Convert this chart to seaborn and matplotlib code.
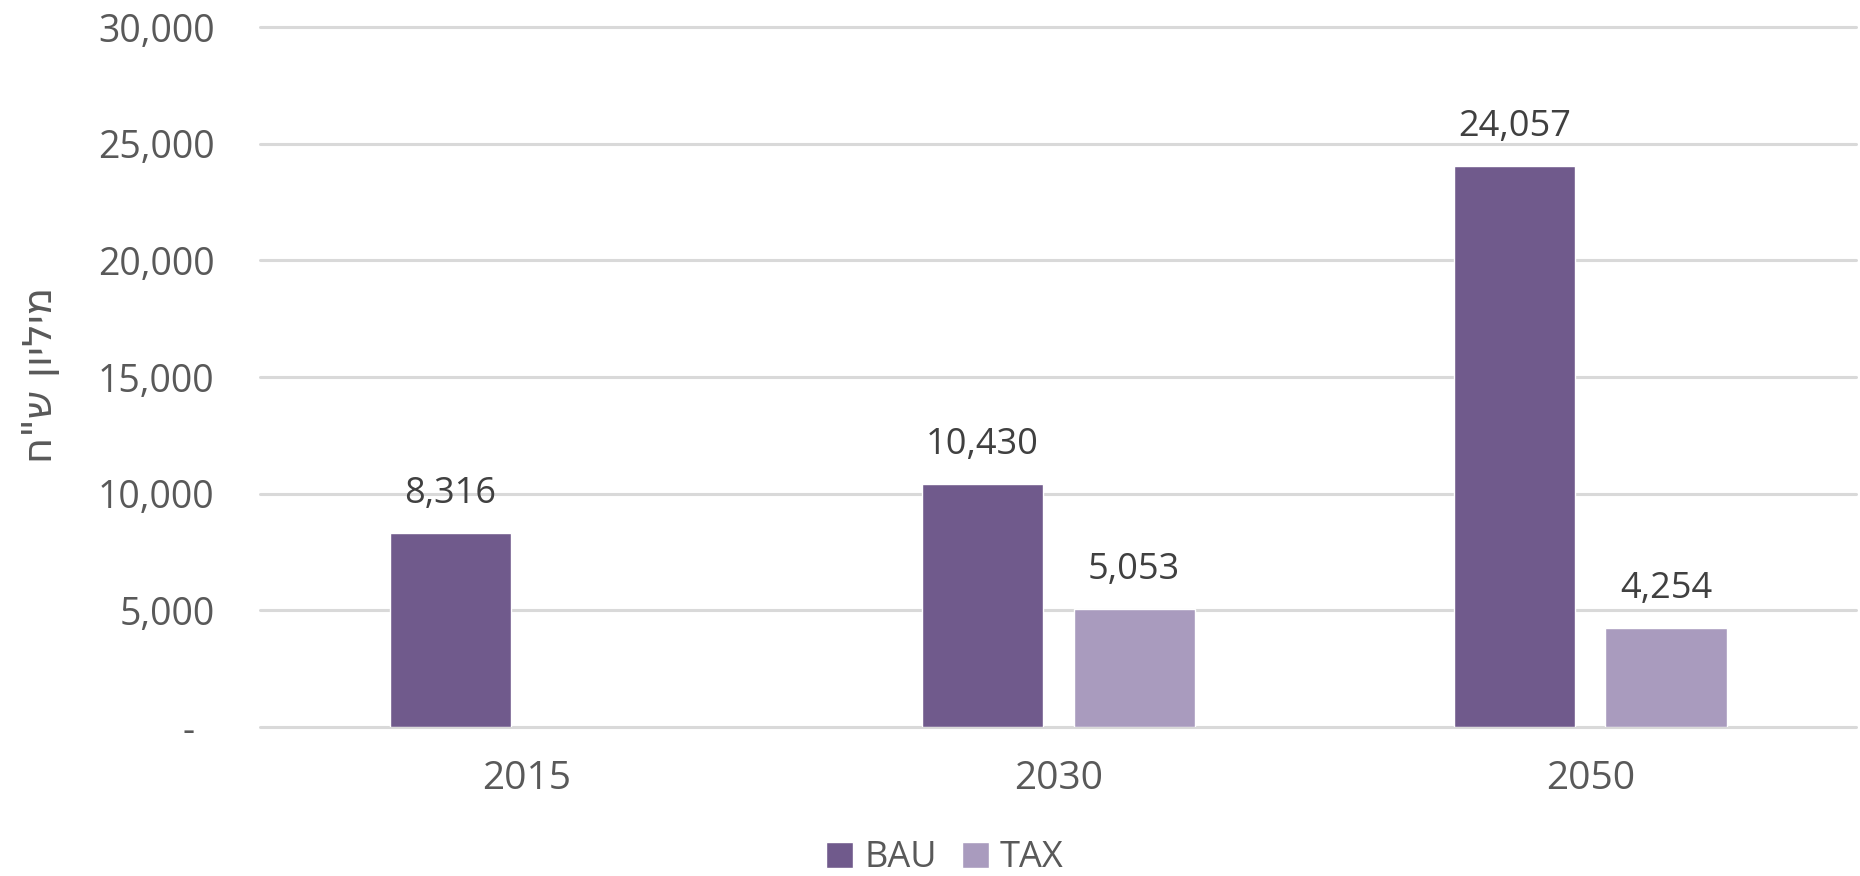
import numpy as np
import pandas as pd
import matplotlib
matplotlib.use("Agg")
import matplotlib.pyplot as plt
import seaborn as sns

years = ["2015", "2030", "2050"]
bau = [8316, 10430, 24057]
tax = [np.nan, 5053, 4254]
series = ["BAU", "TAX"]
colors = ["#705A8C", "#A99BBE"]
yticks = [0, 5000, 10000, 15000, 20000, 25000, 30000]
ylabel = "מיליון ש\"ח"

df = pd.DataFrame({
    "year": years * 2,
    "value": bau + tax,
    "series": ["BAU"] * 3 + ["TAX"] * 3,
})

sns.set_theme(style="white")
plt.rcParams["font.family"] = ["Open Sans", "DejaVu Sans"]
text_color = "#595959"

fig = plt.figure(figsize=(18.6, 8.76), dpi=100)
ax = fig.add_axes([0.140, 0.170, 0.858, 0.799])

sns.barplot(data=df, x="year", y="value", hue="series", order=years,
            hue_order=series, palette=colors, width=0.57, gap=0.2,
            saturation=1, ax=ax, legend=True, errorbar=None)

for c in ax.containers:
    labels = ["" if (v is None or np.isnan(v)) else f"{v:,.0f}" for v in c.datavalues]
    ax.bar_label(c, labels=labels, padding=15, fontsize=26, color="#404040")

ax.set_ylim(0, 30000)
ax.set_xlim(-0.5, 2.5)
ax.set_yticks(yticks)
ax.set_yticklabels(["-  "] + [f"{t:,}" for t in yticks[1:]])
ax.yaxis.grid(True, color="#D9D9D9", linewidth=2.2)
for gl in ax.get_ygridlines():
    gl.set_clip_on(False)
ax.set_axisbelow(True)
for s in ax.spines.values():
    s.set_visible(False)
ax.tick_params(axis="y", length=0, pad=33, labelsize=27, labelcolor=text_color)
ax.tick_params(axis="x", length=0, pad=24, labelsize=28, labelcolor=text_color)
ax.set_xlabel("")
ax.set_ylabel("")
# Hebrew label: reverse for visual RTL order
fig.text(0.022, 0.572, ylabel[::-1], rotation=90, ha="center", va="center",
         fontsize=29, color=text_color, family=["DejaVu Sans"])

handles, labs = ax.get_legend_handles_labels()
ax.get_legend().remove()
fig.legend(handles, labs, loc="center", bbox_to_anchor=(0.508, 0.020),
           ncol=2, frameon=False, fontsize=26, labelcolor=text_color,
           handlelength=0.75, handleheight=0.75, handletextpad=0.3, columnspacing=0.7)

fig.savefig("out.png", dpi=100)
